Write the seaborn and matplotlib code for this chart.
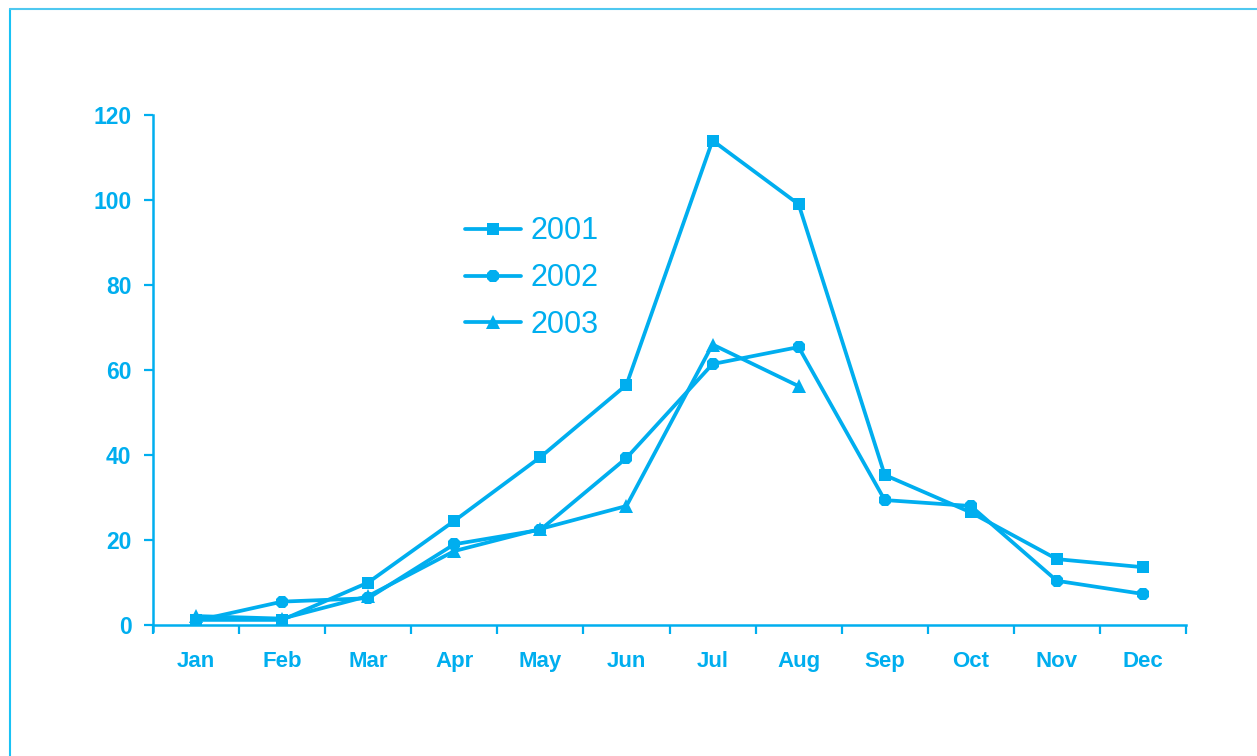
import numpy as np
import pandas as pd
import matplotlib
matplotlib.use("Agg")
import matplotlib.pyplot as plt
import seaborn as sns
from matplotlib.lines import Line2D

months = ["Jan", "Feb", "Mar", "Apr", "May", "Jun", "Jul", "Aug", "Sep", "Oct", "Nov", "Dec"]
v2001 = [1.2, 1.2, 10.0, 24.5, 39.5, 56.5, 114.0, 99.0, 35.3, 26.5, 15.5, 13.6]
v2002 = [1.0, 5.5, 6.3, 19.0, 22.4, 39.3, 61.4, 65.4, 29.4, 28.0, 10.4, 7.3]
v2003 = [2.1, 1.5, 6.8, 17.4, 22.6, 28.0, 66.0, 56.2, np.nan, np.nan, np.nan, np.nan]
years = ["2001", "2002", "2003"]
yticks = [0, 20, 40, 60, 80, 100, 120]

color = "#00AEEF"

rows = []
for yr, vals in zip(years, [v2001, v2002, v2003]):
    for i, (m, v) in enumerate(zip(months, vals)):
        rows.append({"x": i, "month": m, "year": yr, "value": v})
df = pd.DataFrame(rows)

sns.set_style("white")
plt.rcParams["font.family"] = ["Liberation Sans", "DejaVu Sans"]

fig = plt.figure(figsize=(12.57, 7.56), dpi=100)
ax = fig.add_axes([153/1257, 1-625/756, (1186-153)/1257, (625-115)/756])

markers = {"2001": "s", "2002": "8", "2003": "^"}
msizes = {"2001": 8, "2002": 9.5, "2003": 10}
lw = 2.7
for yr in years:
    sub = df[df["year"] == yr]
    sns.lineplot(data=sub, x="x", y="value", color=color, marker=markers[yr],
                 linewidth=lw, markersize=msizes[yr], markeredgewidth=0, ax=ax,
                 legend=False)

ax.set_xlim(-0.5, 11.5)
ax.set_ylim(0, 120)
ax.set_xticks(np.arange(-0.5, 12, 1))
ax.set_xticklabels([])
ax.set_xticks(np.arange(12), minor=True)
ax.set_xticklabels(months, minor=True)
ax.tick_params(axis="x", which="minor", bottom=False, length=0, pad=19, labelsize=16, labelcolor=color)
ax.tick_params(axis="x", which="major", bottom=True, length=6.5, width=1.6, color=color, direction="out")
ax.set_yticks(yticks)
ax.set_yticklabels([str(t) for t in yticks])
ax.tick_params(axis="y", left=True, length=6.5, width=1.6, color=color, labelsize=16.5,
               labelcolor=color, pad=9, direction="out")
for lab in ax.get_xticklabels(minor=True) + ax.get_yticklabels():
    lab.set_fontweight("bold")
ax.set_xlabel("")
ax.set_ylabel("")
for s in ["top", "right"]:
    ax.spines[s].set_visible(False)
for s in ["left", "bottom"]:
    ax.spines[s].set_color(color)
    ax.spines[s].set_linewidth(1.8)
ax.spines["left"].set_bounds(-1.5, 120)
ax.spines["left"].set_clip_on(False)
ax.set_ylim(0, 120)

handles = [Line2D([], [], color=color, lw=lw, marker=markers[y], markersize=msizes[y], markeredgewidth=0)
           for y in years]
leg = ax.legend(handles, years, loc="upper left", bbox_to_anchor=(0.29, 0.825), frameon=False,
                fontsize=22, handlelength=1.85, handletextpad=0.3, labelspacing=0.55,
                labelcolor=color, borderaxespad=0)

# outer frame lines (left and top)
fig.add_artist(Line2D([10/1257, 10/1257], [0, 1-9/756], color="#19C2F5", lw=1.5, transform=fig.transFigure))
fig.add_artist(Line2D([10/1257, 1], [1-9/756, 1-9/756], color="#4FC8F0", lw=1.5, transform=fig.transFigure))

fig.savefig("out.png", dpi=100)
